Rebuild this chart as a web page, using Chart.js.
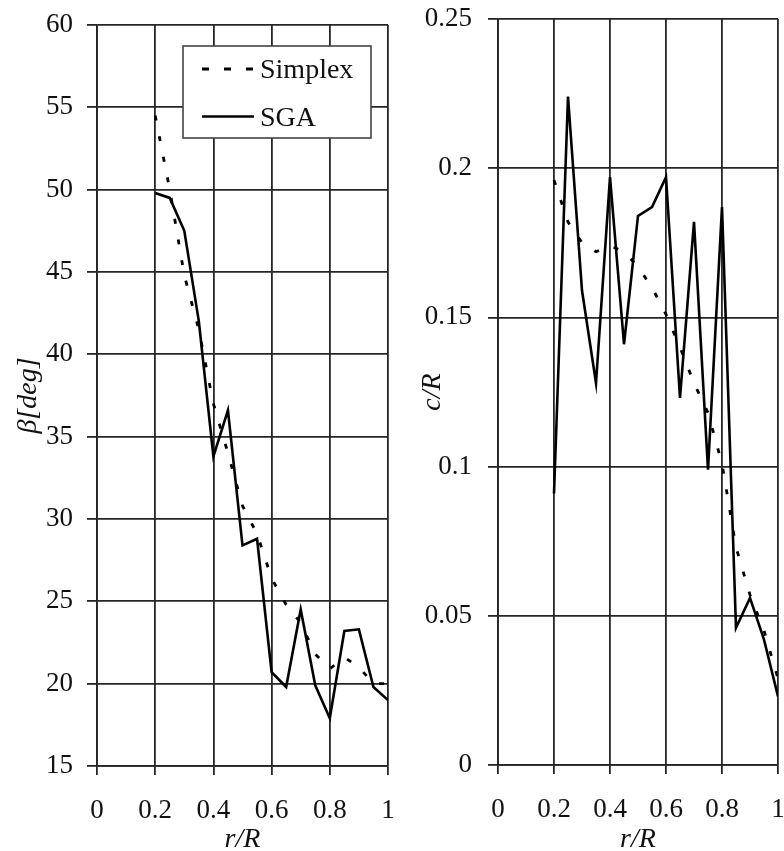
<!DOCTYPE html>
<html>
<head>
<meta charset="utf-8">
<title>Blade twist and chord distribution</title>
<script src="https://cdn.jsdelivr.net/npm/chart.js@4.4.1/dist/chart.umd.min.js"></script>
<style>
  html, body { margin: 0; padding: 0; background: #fff; width: 784px; height: 851px; overflow: hidden; }
  canvas { position: absolute; top: 0; }
  #betaChart { left: 0; }
  #chordChart { left: 400px; }
</style>
</head>
<body>
<canvas id="betaChart" width="400" height="851"></canvas>
<canvas id="chordChart" width="420" height="851"></canvas>
<script>
// radial stations r/R
const rR = [0.2, 0.25, 0.3, 0.35, 0.4, 0.45, 0.5, 0.55, 0.6, 0.65, 0.7, 0.75, 0.8, 0.85, 0.9, 0.95, 1.0];

// twist angle beta [deg]
const betaSimplex = [54.5, 50.0, 44.8, 41.5, 37.0, 34.0, 30.8, 29.1, 26.4, 24.8, 23.7, 21.8, 20.9, 21.6, 21.0, 20.0, 20.0];
const betaSGA = [49.8, 49.5, 47.5, 42.0, 33.8, 36.6, 28.4, 28.8, 20.7, 19.8, 24.5, 19.9, 17.9, 23.2, 23.3, 19.8, 19.0];

// chord c/R
const chordSimplex = [0.196, 0.182, 0.175, 0.172, 0.174, 0.172, 0.167, 0.160, 0.151, 0.140, 0.128, 0.118, 0.101, 0.073, 0.057, 0.045, 0.029];
const chordSGA = [0.091, 0.224, 0.159, 0.128, 0.197, 0.141, 0.184, 0.187, 0.197, 0.123, 0.182, 0.099, 0.187, 0.046, 0.056, 0.042, 0.023];

const seriesNames = ["Simplex", "SGA"];

const xTicks = [0, 0.2, 0.4, 0.6, 0.8, 1];
const xTickLabels = ["0", "0.2", "0.4", "0.6", "0.8", "1"];
const betaTicks = [15, 20, 25, 30, 35, 40, 45, 50, 55, 60];
const betaTickLabels = ["15", "20", "25", "30", "35", "40", "45", "50", "55", "60"];
const chordTicks = [0, 0.05, 0.1, 0.15, 0.2, 0.25];
const chordTickLabels = ["0", "0.05", "0.1", "0.15", "0.2", "0.25"];

const SERIF = '"Liberation Serif", "Times New Roman", serif';
const GRID = "#262626";
const TEXT = "#111";
const SIMPLEX_DASH = [5, 16];
const LEGEND_DASH = [7, 15];

document.addEventListener("DOMContentLoaded", () => {
  buildChart("betaChart", {
    simplex: betaSimplex,
    sga: betaSGA,
    yTicks: betaTicks,
    yLabels: betaTickLabels,
    yTitle: "\u03B2[deg]",
    top: 25,
    right: 12,
    yWidth: 97,
    xHeight: 85,
    yTickPadding: 14,
    yTitlePad: 15,
    plugins: [boxLegend],
  });

  buildChart("chordChart", {
    simplex: chordSimplex,
    sga: chordSGA,
    yTicks: chordTicks,
    yLabels: chordTickLabels,
    yTitle: "c/R",
    top: 19,
    right: 42,
    yWidth: 98,
    xHeight: 86,
    yTickPadding: 16,
    yTitlePad: 19,
    plugins: [],
  });
});

function toPoints(values) {
  return rR.map((x, i) => ({ x, y: values[i] }));
}

// framed legend sitting in the upper right of the twist plot
const boxLegend = {
  id: "boxLegend",
  afterDraw(chart) {
    const { ctx, chartArea } = chart;
    const bx = chartArea.left + 86;
    const by = chartArea.top + 21;
    const bw = 188;
    const bh = 92;

    ctx.save();
    ctx.fillStyle = "#fff";
    ctx.fillRect(bx, by, bw, bh);
    ctx.strokeStyle = "#444";
    ctx.lineWidth = 1.6;
    ctx.setLineDash([]);
    ctx.strokeRect(bx, by, bw, bh);

    chart.data.datasets.forEach((ds, i) => {
      const rowY = by + 23 + i * 47.5;
      ctx.beginPath();
      ctx.setLineDash(ds.borderDash ? LEGEND_DASH : []);
      ctx.lineWidth = ds.borderWidth;
      ctx.strokeStyle = ds.borderColor;
      ctx.moveTo(bx + 19, rowY);
      ctx.lineTo(bx + 71, rowY);
      ctx.stroke();

      ctx.setLineDash([]);
      ctx.fillStyle = TEXT;
      ctx.font = `28px ${SERIF}`;
      ctx.textAlign = "left";
      ctx.textBaseline = "middle";
      ctx.fillText(ds.label, bx + 77, rowY + 2);
    });
    ctx.restore();
  },
};

function buildChart(canvasId, cfg) {
  const tickFont = { family: SERIF, size: 27 };
  const titleFont = { family: SERIF, size: 28, style: "italic", lineHeight: 1 };

  return new Chart(document.getElementById(canvasId), {
    type: "line",
    data: {
      datasets: [
        {
          label: seriesNames[0],
          data: toPoints(cfg.simplex),
          borderColor: "#000",
          borderWidth: 2.8,
          borderDash: SIMPLEX_DASH,
          pointRadius: 0,
          tension: 0,
        },
        {
          label: seriesNames[1],
          data: toPoints(cfg.sga),
          borderColor: "#000",
          borderWidth: 2.6,
          pointRadius: 0,
          tension: 0,
        },
      ],
    },
    options: {
      responsive: false,
      animation: false,
      devicePixelRatio: 1,
      layout: { padding: { top: cfg.top, right: cfg.right, left: 0, bottom: 0 } },
      plugins: {
        legend: { display: false },
        tooltip: { enabled: false },
      },
      scales: {
        x: {
          type: "linear",
          min: 0,
          max: 1,
          afterBuildTicks: (s) => { s.ticks = xTicks.map((v) => ({ value: v })); },
          afterFit: (s) => {
            // labels at the ends may hang over the plot edge
            s.height = cfg.xHeight;
            s.paddingLeft = 0;
            s.paddingRight = 0;
          },
          grid: { color: GRID, lineWidth: 1.8, tickLength: 9 },
          border: { color: GRID, width: 1.8 },
          ticks: {
            font: tickFont,
            color: TEXT,
            padding: 20,
            maxRotation: 0,
            autoSkip: false,
            callback: (v, i) => xTickLabels[i],
          },
          title: {
            display: true,
            text: "r/R",
            font: { ...titleFont, lineHeight: 0.8 },
            color: TEXT,
            padding: { top: 0, bottom: 0 },
          },
        },
        y: {
          type: "linear",
          min: cfg.yTicks[0],
          max: cfg.yTicks[cfg.yTicks.length - 1],
          afterBuildTicks: (s) => { s.ticks = cfg.yTicks.map((v) => ({ value: v })); },
          afterFit: (s) => {
            s.width = cfg.yWidth;
            s.paddingTop = 0;
            s.paddingBottom = 0;
          },
          grid: { color: GRID, lineWidth: 1.8, tickLength: 10 },
          border: { color: GRID, width: 1.8 },
          ticks: {
            font: tickFont,
            color: TEXT,
            padding: cfg.yTickPadding,
            autoSkip: false,
            callback: (v, i) => cfg.yLabels[i],
          },
          title: {
            display: true,
            text: cfg.yTitle,
            font: titleFont,
            color: TEXT,
            padding: { top: cfg.yTitlePad, bottom: 0 },
          },
        },
      },
    },
    plugins: cfg.plugins,
  });
}
</script>
</body>
</html>
